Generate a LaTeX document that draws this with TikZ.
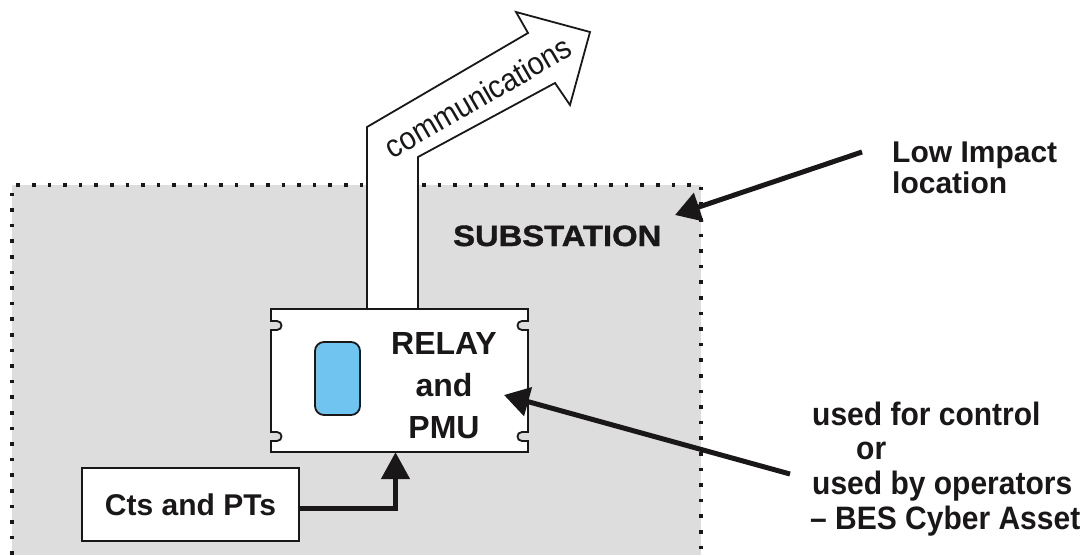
\documentclass[tikz,border=0pt]{standalone}
\usepackage{fontspec}
\setmainfont{Liberation Sans}
\usetikzlibrary{arrows.meta,calc}
\definecolor{subgray}{HTML}{DDDDDD}
\definecolor{screenblue}{HTML}{70C4F0}
\definecolor{ink}{HTML}{1A1718}
\begin{document}
\begin{tikzpicture}[x=1pt,y=-1pt,
  lbl/.style={font=\fontsize{30}{30}\selectfont\bfseries, inner sep=0pt, anchor=base west, text=ink},
  relaylbl/.style={font=\fontsize{32}{32}\selectfont\bfseries, inner sep=0pt, anchor=base, text=ink},
  pointer/.style={draw=ink, line width=5pt, -{Triangle[length=25pt,width=29pt]}},
  outline/.style={draw=ink, line width=1.8pt, line join=miter},
  dotborder/.style={draw=ink, line width=3.6pt, dash pattern=on 3.6pt off 12pt},
  ]
\useasboundingbox (0,0) rectangle (1092,555);
% substation area
\fill[subgray] (12,185) rectangle (701,555);
\draw[dotborder] (12,555) -- (12,185) -- (701,185) -- (701,555);
\node[anchor=base west, inner sep=0pt, text=ink,
      font=\fontsize{28}{28}\selectfont\bfseries] (sub) at (453,246)
      {\scalebox{1.17}[1.05]{\addfontfeature{FakeBold=1.3}SUBSTATION}};
% communications arrow
\draw[outline, fill=white] (367,312) -- (367,127) -- (528,33) -- (516,12) -- (590,32)
   -- (570,105) -- (555,83) -- (418,157) -- (418,312) -- cycle;
\node[rotate=30, inner sep=0pt, text=ink, font=\fontsize{29}{29}\selectfont] (comm) at (478,97)
   {\scalebox{1}[1.1]{communications}};
% relay box
\node[minimum width=257pt, minimum height=143pt, inner sep=0pt] (relay) at (399.5,380.5) {};
\draw[outline, fill=white] (271,309) -- (528,309) -- (528,321)
   -- (522,321) .. controls (516,321) and (516,330) .. (522,330) -- (528,330)
   -- (528,432) -- (522,432) .. controls (516,432) and (516,441) .. (522,441) -- (528,441)
   -- (528,452) -- (271,452) -- (271,441)
   -- (277,441) .. controls (283,441) and (283,432) .. (277,432) -- (271,432)
   -- (271,330) -- (277,330) .. controls (283,330) and (283,321) .. (277,321) -- (271,321)
   -- cycle;
\draw[draw=ink, line width=1.8pt, fill=screenblue, rounded corners=9pt] (315,342) rectangle (360,415);
\node[relaylbl] (relay1) at (444,354) {RELAY};
\node[relaylbl] (relay2) at (444,396) {and};
\node[relaylbl] (relay3) at (444,438) {PMU};
% CTs and PTs
\node[draw=ink, line width=1.8pt, fill=white, minimum width=217pt, minimum height=73pt,
      inner sep=0pt, font=\fontsize{30}{30}\selectfont\bfseries, text=ink] (cts) at (190.5,504.5) {Cts and PTs};
\draw[draw=ink, line width=5pt, -{Triangle[length=27pt,width=28pt]}]
   ($(cts.east)+(0,3.5)$) -| ($(relay.south)+(-4,0)$);
% labels
\node[lbl] (low1) at (892,162) {Low Impact};
\node[lbl] (low2) at (892,193) {location};
\coordinate (lowtail) at (862,152);
\coordinate (lowtip) at (675,215);
\draw[pointer] (lowtail) -- (lowtip);
\node[lbl] (use1) at (812,425) {\scalebox{1}[1.08]{used for control}};
\node[lbl] (use2) at (856,459) {\scalebox{1}[1.08]{or}};
\node[lbl] (use3) at (812,494) {\scalebox{1}[1.08]{used by operators}};
\node[lbl] (use4) at (810,529) {\scalebox{1}[1.08]{– BES Cyber Asset}};
\coordinate (usetail) at (790,474);
\coordinate (usetip) at (504,395);
\draw[pointer] (usetail) -- (usetip);
\end{tikzpicture}
\end{document}
